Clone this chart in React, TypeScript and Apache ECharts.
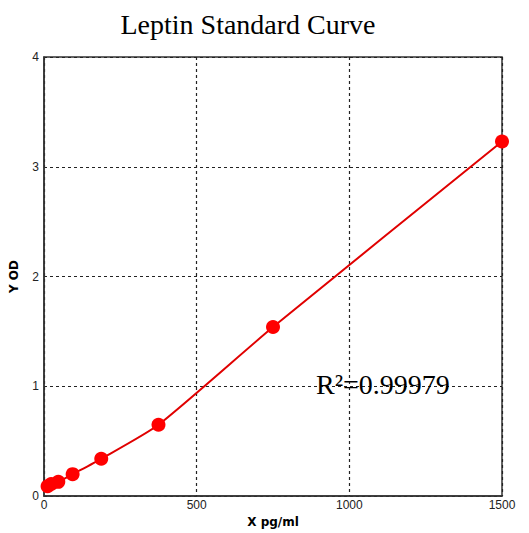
import React, { useEffect, useRef } from "react";
import * as echarts from "echarts";

const concentrations = [11.72, 23.44, 46.88, 93.75, 187.5, 375, 750, 1500];
const odValues = [0.09, 0.11, 0.13, 0.2, 0.34, 0.65, 1.54, 3.23];
const xTicks = [0, 500, 1000, 1500];
const yTicks = [0, 1, 2, 3, 4];
const titleText = "Leptin Standard Curve";
const r2Text = "R²=0.99979";

export default function App() {
  const ref = useRef<HTMLDivElement>(null);
  useEffect(() => {
    const chart = echarts.init(ref.current!, null, { renderer: "svg" });
    const pts = concentrations.map((x, i) => [x, odValues[i]]);
    chart.setOption({
      animation: false,
      backgroundColor: "#ffffff",
      title: {
        text: titleText,
        left: 243,
        top: 5,
        textAlign: "center",
        textStyle: {
          fontFamily: "Liberation Serif",
          fontSize: 28,
          fontWeight: "normal",
          color: "#000",
        },
      },
      grid: { left: 40, right: 27, top: 57, bottom: 36, show: true, borderColor: "#333", borderWidth: 1.5 },
      xAxis: {
        type: "value",
        min: xTicks[0],
        max: xTicks[xTicks.length - 1],
        interval: 500,
        name: "X pg/ml",
        nameLocation: "middle",
        nameGap: 18,
        nameTextStyle: { fontFamily: "DejaVu Sans", fontWeight: "bold", fontSize: 12, color: "#000" },
        axisLine: { lineStyle: { color: "#333", width: 1.5 } },
        axisTick: { show: false },
        axisLabel: { fontFamily: "Liberation Sans", fontSize: 12, color: "#222", margin: 3, formatter: (v: number) => String(v) },
        splitLine: { show: true, lineStyle: { color: "#222", type: [3, 3], width: 1.2 } },
      },
      yAxis: {
        type: "value",
        min: yTicks[0],
        max: yTicks[yTicks.length - 1],
        interval: 1,
        name: "Y OD",
        nameLocation: "middle",
        nameGap: 24,
        nameRotate: 90,
        nameTextStyle: { fontFamily: "DejaVu Sans", fontWeight: "bold", fontSize: 12, color: "#000" },
        axisLine: { lineStyle: { color: "#333", width: 1.5 } },
        axisTick: { show: false },
        axisLabel: { fontFamily: "Liberation Sans", fontSize: 12, color: "#222", margin: 5 },
        splitLine: { show: true, lineStyle: { color: "#222", type: [3, 3], width: 1.2 } },
      },
      series: [
        {
          type: "line",
          data: pts,
          smooth: 0.2,
          symbol: "circle",
          symbolSize: 14,
          itemStyle: { color: "#ff0000" },
          lineStyle: { color: "#e00000", width: 2 },
          z: 3,
        },
      ],
      graphic: [
        {
          type: "text",
          left: 316,
          top: 370,
          style: {
            text: r2Text,
            font: "28px 'Liberation Serif'",
            fill: "#000",
          },
          z: 10,
        },
      ],
    });
    return () => chart.dispose();
  }, []);
  return <div ref={ref} style={{ width: 529, height: 533, position: "absolute", left: 0, top: 0 }} />;
}
